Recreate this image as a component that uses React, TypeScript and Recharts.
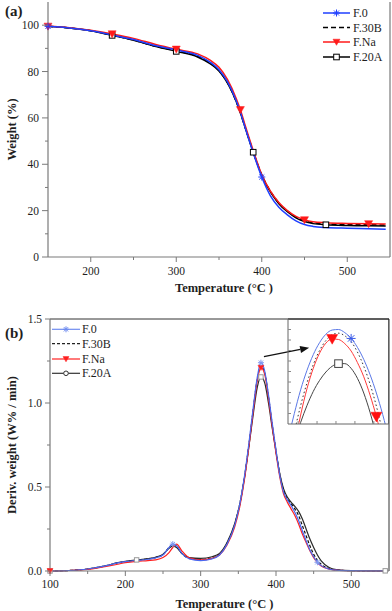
import React from 'react';
import { LineChart, Line, XAxis, YAxis, Legend, ReferenceLine, Label } from 'recharts';

const FONT = "'Liberation Serif', 'Times New Roman', serif";
const AXIS = '#7a7a7a';
const TEXT = '#1e1e1e';

// ---------- (a) TGA ----------
const tgaTemps = [150, 175, 200, 225, 250, 275, 300, 325, 340, 350, 360, 370, 375, 380, 390, 400, 410, 420, 430, 440, 450, 460, 475, 500, 525, 545];
const tgaF0 = [99.5, 98.8, 97.6, 95.8, 93.8, 91.2, 89.3, 87.0, 84.0, 80.8, 75.5, 67.5, 62.5, 56.5, 45.0, 34.5, 26.5, 21.5, 18.2, 15.6, 14.0, 13.2, 12.7, 12.4, 12.2, 12.0];
const tgaF30B = [99.5, 98.8, 97.6, 95.7, 93.6, 91.0, 88.9, 86.6, 83.6, 80.4, 75.1, 67.3, 62.3, 56.6, 45.4, 35.4, 28.4, 23.3, 19.8, 17.2, 15.6, 14.8, 14.3, 14.0, 13.9, 13.8];
const tgaFNa = [99.5, 98.9, 97.8, 96.2, 94.3, 91.8, 89.6, 87.6, 84.8, 81.8, 76.5, 68.5, 63.5, 57.5, 46.0, 35.5, 28.5, 23.5, 20.0, 17.5, 16.0, 15.2, 14.8, 14.5, 14.3, 14.2];
const tgaF20A = [99.5, 98.8, 97.6, 95.6, 93.5, 90.9, 88.7, 86.3, 83.3, 80.2, 75.0, 67.2, 62.2, 56.5, 45.2, 35.2, 28.2, 23.0, 19.5, 16.9, 15.3, 14.4, 13.9, 13.6, 13.5, 13.4];
const tgaMarkF0 = [150, 400];
const tgaMarkFNa = [150, 225, 300, 375, 450, 525];
const tgaMarkF20A = [225, 300, 390, 475];
const tgaXTicks = [200, 250, 300, 350, 400, 450, 500];
const tgaXLabels = [200, 300, 400, 500];
const tgaYTicks = [0, 10, 20, 30, 40, 50, 60, 70, 80, 90, 100];
const tgaYLabels = [0, 20, 40, 60, 80, 100];

// ---------- (b) DTG ----------
const dtgTemps = [100, 125, 150, 175, 190, 200, 215, 230, 240, 250, 258, 263, 268, 275, 285, 300, 315, 325, 335, 345, 352, 358, 364, 370, 375, 380, 385, 390, 395, 400, 405, 410, 415, 420, 425, 430, 435, 440, 445, 450, 455, 460, 470, 480, 500, 525, 545];
const dtgF0 = [0.000, 0.003, 0.012, 0.032, 0.048, 0.056, 0.063, 0.070, 0.078, 0.095, 0.140, 0.160, 0.150, 0.105, 0.072, 0.062, 0.072, 0.095, 0.160, 0.270, 0.400, 0.560, 0.760, 0.980, 1.150, 1.240, 1.190, 1.050, 0.880, 0.720, 0.570, 0.470, 0.425, 0.390, 0.350, 0.300, 0.240, 0.180, 0.125, 0.085, 0.052, 0.032, 0.012, 0.005, 0.002, 0.001, 0.001];
const dtgF30B = [0.000, 0.003, 0.012, 0.032, 0.048, 0.056, 0.064, 0.072, 0.080, 0.097, 0.140, 0.158, 0.148, 0.105, 0.075, 0.068, 0.078, 0.100, 0.165, 0.275, 0.400, 0.555, 0.750, 0.970, 1.140, 1.220, 1.180, 1.040, 0.870, 0.715, 0.575, 0.480, 0.430, 0.400, 0.370, 0.330, 0.270, 0.210, 0.150, 0.100, 0.065, 0.040, 0.015, 0.006, 0.002, 0.001, 0.001];
const dtgFNa = [0.000, 0.003, 0.010, 0.028, 0.040, 0.050, 0.058, 0.062, 0.066, 0.080, 0.110, 0.140, 0.160, 0.120, 0.078, 0.066, 0.075, 0.095, 0.155, 0.260, 0.385, 0.540, 0.740, 0.960, 1.130, 1.210, 1.170, 1.030, 0.860, 0.700, 0.560, 0.460, 0.410, 0.370, 0.330, 0.280, 0.220, 0.170, 0.120, 0.080, 0.050, 0.030, 0.012, 0.005, 0.002, 0.001, 0.001];
const dtgF20A = [0.000, 0.003, 0.012, 0.032, 0.050, 0.058, 0.066, 0.074, 0.082, 0.100, 0.135, 0.150, 0.140, 0.105, 0.080, 0.075, 0.085, 0.105, 0.170, 0.280, 0.400, 0.550, 0.740, 0.940, 1.090, 1.155, 1.120, 1.000, 0.850, 0.710, 0.580, 0.490, 0.440, 0.410, 0.385, 0.355, 0.310, 0.250, 0.190, 0.140, 0.095, 0.060, 0.022, 0.008, 0.002, 0.001, 0.001];
const dtgMarkF0 = [263, 380, 455];
const dtgMarkFNa = [100, 380];
const dtgMarkF20A = [100, 215, 380, 545];
const dtgXTicks = [100, 150, 200, 250, 300, 350, 400, 450, 500];
const dtgXLabels = [100, 200, 300, 400, 500];
const dtgYTicks = [0, 0.25, 0.5, 0.75, 1.0, 1.25, 1.5];
const dtgYLabels = [0, 0.5, 1.0, 1.5];
const arrowFrom = { t: 384, v: 1.276 };
const arrowTo = { t: 444, v: 1.329 };

// ---------- inset (peak zoom) ----------
const insetTemps = [372, 373, 374, 375, 376, 377, 378, 379, 380, 381, 382, 383, 384, 385, 386, 387, 388];
const insetF0 = [1.030, 1.080, 1.125, 1.162, 1.192, 1.215, 1.231, 1.239, 1.240, 1.234, 1.223, 1.206, 1.183, 1.154, 1.119, 1.078, 1.031];
const insetF30B = [0.985, 1.044, 1.095, 1.138, 1.173, 1.200, 1.219, 1.230, 1.233, 1.228, 1.217, 1.197, 1.170, 1.136, 1.094, 1.044, 0.988];
const insetFNa = [0.946, 1.017, 1.077, 1.127, 1.166, 1.195, 1.214, 1.222, 1.221, 1.213, 1.199, 1.177, 1.150, 1.115, 1.074, 1.026, 0.971];
const insetF20A = [0.984, 1.026, 1.063, 1.095, 1.122, 1.143, 1.159, 1.170, 1.175, 1.175, 1.166, 1.147, 1.119, 1.082, 1.036, 0.980, 0.915];
const insetMarkF0 = [382];
const insetMarkFNa = [379, 386];
const insetMarkF20A = [380];
const insetXTicks = [373.6, 376.6, 379.6, 382.6, 385.6];
const insetYTicks = [1.08, 1.1, 1.12, 1.14, 1.16, 1.18, 1.2, 1.22, 1.24];

const tgaData = tgaTemps.map((t, i) => ({ t, f0: tgaF0[i], f30b: tgaF30B[i], fna: tgaFNa[i], f20a: tgaF20A[i] }));
const dtgData = dtgTemps.map((t, i) => ({ t, f0: dtgF0[i], f30b: dtgF30B[i], fna: dtgFNa[i], f20a: dtgF20A[i] }));
const insetData = insetTemps.map((t, i) => ({ t, f0: insetF0[i], f30b: insetF30B[i], fna: insetFNa[i], f20a: insetF20A[i] }));

type Kind = 'star' | 'tri' | 'sq' | 'circ' | 'none';

function Marker({ kind, cx, cy, s, color }: { kind: Kind; cx: number; cy: number; s: number; color: string }) {
  if (kind === 'star') {
    const d = s * 0.72;
    return (
      <g stroke={color} strokeWidth={1}>
        <line x1={cx} y1={cy - s} x2={cx} y2={cy + s} />
        <line x1={cx - s} y1={cy} x2={cx + s} y2={cy} />
        <line x1={cx - d} y1={cy - d} x2={cx + d} y2={cy + d} />
        <line x1={cx - d} y1={cy + d} x2={cx + d} y2={cy - d} />
      </g>
    );
  }
  if (kind === 'tri') {
    return <polygon points={`${cx - s},${cy - s * 0.8} ${cx + s},${cy - s * 0.8} ${cx},${cy + s * 0.95}`} fill={color} stroke={color} strokeWidth={0.5} />;
  }
  if (kind === 'sq') {
    return <rect x={cx - s} y={cy - s} width={2 * s} height={2 * s} fill="#fff" stroke={color} strokeWidth={1} />;
  }
  if (kind === 'circ') {
    return <circle cx={cx} cy={cy} r={s} fill="#fff" stroke={color} strokeWidth={1} />;
  }
  return null;
}

const dotFor = (kind: Kind, marks: number[], s: number, color: string) => (p: any) => {
  const key = `d-${p.index}`;
  if (!p.payload || !marks.includes(p.payload.t) || p.cx == null || p.cy == null) return <g key={key} />;
  return (
    <g key={key}>
      <Marker kind={kind} cx={p.cx} cy={p.cy} s={s} color={color} />
    </g>
  );
};

const xTick = (labels: number[], fmt: (v: number) => string, major: number, minor: number, dy: number, fontSize: number, dir = 1, color = AXIS) => (p: any) => {
  const { x, y, payload } = p;
  const isMajor = labels.includes(payload.value);
  return (
    <g>
      <line x1={x} y1={y} x2={x} y2={y + dir * (isMajor ? major : minor)} stroke={color} strokeWidth={1} />
      {isMajor && labels.length > 0 ? (
        <text x={x} y={y + dy} textAnchor="middle" dominantBaseline="central" fontSize={fontSize} fontFamily={FONT} fill={TEXT}>
          {fmt(payload.value)}
        </text>
      ) : null}
    </g>
  );
};

const yTick = (labels: number[], fmt: (v: number) => string, major: number, minor: number, dx: number, fontSize: number, dir = 1, color = AXIS) => (p: any) => {
  const { x, y, payload } = p;
  const isMajor = labels.includes(payload.value);
  return (
    <g>
      <line x1={x} y1={y} x2={x - dir * (isMajor ? major : minor)} y2={y} stroke={color} strokeWidth={1} />
      {isMajor && labels.length > 0 ? (
        <text x={x - dx} y={y} textAnchor="end" dominantBaseline="central" fontSize={fontSize} fontFamily={FONT} fill={TEXT}>
          {fmt(payload.value)}
        </text>
      ) : null}
    </g>
  );
};

const xTitle = (text: string, dy: number, dx: number) => (p: any) => {
  const vb = p.viewBox || {};
  return (
    <text x={vb.x + vb.width / 2 + dx} y={vb.y + dy} textAnchor="middle" dominantBaseline="central" fontSize={12.5} fontWeight="bold" fontFamily={FONT} fill={TEXT}>
      {text}
    </text>
  );
};

const yTitle = (text: string, xc: number) => (p: any) => {
  const vb = p.viewBox || {};
  const cy = vb.y + vb.height / 2;
  return (
    <text x={xc} y={cy} transform={`rotate(-90, ${xc}, ${cy})`} textAnchor="middle" dominantBaseline="central" fontSize={12.5} fontWeight="bold" fontFamily={FONT} fill={TEXT}>
      {text}
    </text>
  );
};

const ArrowShape = (p: any) => {
  const { x1, y1, x2, y2 } = p;
  if ([x1, y1, x2, y2].some((v) => v == null || isNaN(v))) return <g />;
  const ang = Math.atan2(y2 - y1, x2 - x1);
  const L = 9;
  const W = 3.5;
  const bx = x2 - L * Math.cos(ang);
  const by = y2 - L * Math.sin(ang);
  const px = -Math.sin(ang) * W;
  const py = Math.cos(ang) * W;
  return (
    <g>
      <line x1={x1} y1={y1} x2={bx} y2={by} stroke="#111" strokeWidth={1.3} />
      <polygon points={`${x2},${y2} ${bx + px},${by + py} ${bx - px},${by - py}`} fill="#111" />
    </g>
  );
};

type LegendItem = { name: string; color: string; dash?: string; kind: Kind; s: number };

const LegendBox = ({ items, rowY, x1, x2, textX, width, height, lw }: { items: LegendItem[]; rowY: number[]; x1: number; x2: number; textX: number; width: number; height: number; lw: number }) => (
  <svg width={width} height={height} style={{ display: 'block', overflow: 'visible' }}>
    {items.map((it, i) => (
      <g key={it.name}>
        <line x1={x1} y1={rowY[i]} x2={x2} y2={rowY[i]} stroke={it.color} strokeWidth={lw} strokeDasharray={it.dash} />
        <Marker kind={it.kind} cx={(x1 + x2) / 2} cy={rowY[i]} s={it.s} color={it.color} />
        <text x={textX} y={rowY[i]} dominantBaseline="central" fontSize={12} fontFamily={FONT} fill={TEXT}>
          {it.name}
        </text>
      </g>
    ))}
  </svg>
);

const legendA: LegendItem[] = [
  { name: 'F.0', color: '#1f3fff', kind: 'star', s: 3.5 },
  { name: 'F.30B', color: '#000', dash: '5 3', kind: 'none', s: 0 },
  { name: 'F.Na', color: '#ff1a1a', kind: 'tri', s: 3.5 },
  { name: 'F.20A', color: '#000', kind: 'sq', s: 2.8 },
];
const legendB: LegendItem[] = [
  { name: 'F.0', color: '#6f8cf0', kind: 'star', s: 3 },
  { name: 'F.30B', color: '#222', dash: '3 2', kind: 'none', s: 0 },
  { name: 'F.Na', color: '#ff2020', kind: 'tri', s: 3 },
  { name: 'F.20A', color: '#333', kind: 'circ', s: 2.3 },
];

const BLUE_A = '#1f3fff';
const RED_A = '#ff1a1a';
const BLUE_B = '#4a68f0';
const RED_B = '#ff2020';
const GREY_B = '#2a2a2a';

export default function App() {
  return (
    <div style={{ position: 'absolute', left: 0, top: 0, width: 392, height: 611, background: '#fff', fontFamily: FONT }}>
      {/* (a) */}
      <div style={{ position: 'absolute', left: 0, top: 0 }}>
        <LineChart width={392} height={300} data={tgaData} margin={{ top: 2, right: 2, left: 0, bottom: 0 }}>
          <XAxis
            dataKey="t"
            type="number"
            domain={[150, 550]}
            ticks={tgaXTicks}
            interval={0}
            height={43}
            tickSize={0}
            tickMargin={0}
            tickLine={false}
            axisLine={{ stroke: AXIS, strokeWidth: 1.2 }}
            tick={xTick(tgaXLabels, (v) => String(v), 5, 3, 14, 11.5)}
          >
            <Label content={xTitle('Temperature (°C )', 31, 5)} />
          </XAxis>
          <YAxis
            type="number"
            domain={[0, 110]}
            ticks={tgaYTicks}
            interval={0}
            width={48}
            tickSize={0}
            tickMargin={0}
            tickLine={false}
            axisLine={{ stroke: AXIS, strokeWidth: 1.2 }}
            tick={yTick(tgaYLabels, (v) => String(v), 6, 3, 9, 11.5)}
          >
            <Label content={yTitle('Weight (%)', 12)} />
          </YAxis>
          <ReferenceLine x={550} stroke={AXIS} strokeWidth={1.2} />
          <Line dataKey="f20a" type="monotone" stroke="#000" strokeWidth={1.5} dot={dotFor('sq', tgaMarkF20A, 2.8, '#000')} activeDot={false} isAnimationActive={false} />
          <Line dataKey="f30b" type="monotone" stroke="#000" strokeWidth={1.5} strokeDasharray="5 3" dot={false} activeDot={false} isAnimationActive={false} />
          <Line dataKey="fna" type="monotone" stroke={RED_A} strokeWidth={1.5} dot={dotFor('tri', tgaMarkFNa, 4, RED_A)} activeDot={false} isAnimationActive={false} />
          <Line dataKey="f0" type="monotone" stroke={BLUE_A} strokeWidth={1.5} dot={dotFor('star', tgaMarkF0, 3.5, BLUE_A)} activeDot={false} isAnimationActive={false} />
          <Legend
            layout="vertical"
            align="center"
            verticalAlign="middle"
            wrapperStyle={{ left: 320, top: 4, width: 72, height: 62 }}
            content={() => <LegendBox items={legendA} rowY={[9, 23.5, 38, 53]} x1={3} x2={30} textX={33} width={72} height={62} lw={1.5} />}
          />
        </LineChart>
      </div>
      <div style={{ position: 'absolute', left: 5, top: 3, fontSize: 15, fontWeight: 'bold', lineHeight: '17px', color: TEXT }}>(a)</div>

      {/* (b) */}
      <div style={{ position: 'absolute', left: 0, top: 300 }}>
        <LineChart width={392} height={311} data={dtgData} margin={{ top: 19, right: 3, left: 0, bottom: 0 }}>
          <XAxis
            dataKey="t"
            type="number"
            domain={[100, 550]}
            ticks={dtgXTicks}
            interval={0}
            height={40}
            tickSize={0}
            tickMargin={0}
            tickLine={false}
            axisLine={{ stroke: AXIS, strokeWidth: 1.2 }}
            tick={xTick(dtgXLabels, (v) => String(v), 5, 3, 13, 11.5)}
          >
            <Label content={xTitle('Temperature (°C )', 33, 5)} />
          </XAxis>
          <YAxis
            type="number"
            domain={[0, 1.5]}
            ticks={dtgYTicks}
            interval={0}
            width={50}
            tickSize={0}
            tickMargin={0}
            tickLine={false}
            axisLine={{ stroke: AXIS, strokeWidth: 1.2 }}
            tick={yTick(dtgYLabels, (v) => v.toFixed(1), 5, 3, 8, 11.5)}
          >
            <Label content={yTitle('Deriv. weight (W% / min)', 12)} />
          </YAxis>
          <ReferenceLine y={1.5} stroke="#333" strokeWidth={1} />
          <ReferenceLine x={550} stroke="#333" strokeWidth={1} />
          <Line dataKey="f20a" type="monotone" stroke={GREY_B} strokeWidth={1.2} dot={dotFor('sq', dtgMarkF20A, 2.2, '#999')} activeDot={false} isAnimationActive={false} />
          <Line dataKey="f30b" type="monotone" stroke="#111" strokeWidth={1.2} strokeDasharray="3 2" dot={false} activeDot={false} isAnimationActive={false} />
          <Line dataKey="fna" type="monotone" stroke={RED_B} strokeWidth={1.2} dot={dotFor('tri', dtgMarkFNa, 3, RED_B)} activeDot={false} isAnimationActive={false} />
          <Line dataKey="f0" type="monotone" stroke={BLUE_B} strokeWidth={1.2} dot={dotFor('star', dtgMarkF0, 3, '#7f99f0')} activeDot={false} isAnimationActive={false} />
          <ReferenceLine segment={[{ x: arrowFrom.t, y: arrowFrom.v }, { x: arrowTo.t, y: arrowTo.v }]} shape={ArrowShape} />
          <Legend
            layout="vertical"
            align="center"
            verticalAlign="middle"
            wrapperStyle={{ left: 50, top: 20, width: 80, height: 62 }}
            content={() => <LegendBox items={legendB} rowY={[9.3, 23.7, 39, 53.3]} x1={2} x2={30} textX={32} width={80} height={62} lw={1.2} />}
          />
        </LineChart>
      </div>
      <div style={{ position: 'absolute', left: 5, top: 325, fontSize: 15, fontWeight: 'bold', lineHeight: '17px', color: TEXT }}>(b)</div>

      {/* inset */}
      <div style={{ position: 'absolute', left: 287, top: 318 }}>
        <LineChart width={102} height={107} data={insetData} margin={{ top: 1, right: 0, left: 0, bottom: 0 }}>
          <XAxis
            dataKey="t"
            type="number"
            domain={[372, 388]}
            ticks={insetXTicks}
            interval={0}
            height={1}
            tickSize={0}
            tickMargin={0}
            tickLine={false}
            axisLine={{ stroke: '#666', strokeWidth: 1 }}
            tick={xTick([], (v) => String(v), 3, 3, 0, 8, -1, '#888')}
          />
          <YAxis
            type="number"
            domain={[1.06, 1.26]}
            allowDataOverflow
            ticks={insetYTicks}
            interval={0}
            width={1}
            tickSize={0}
            tickMargin={0}
            tickLine={false}
            axisLine={{ stroke: '#666', strokeWidth: 1 }}
            tick={yTick([], (v) => String(v), 3, 3, 0, 8, -1, '#888')}
          />
          <ReferenceLine y={1.26} stroke="#222" strokeWidth={1} />
          <ReferenceLine x={388} stroke="#222" strokeWidth={1} />
          <Line dataKey="f20a" type="monotone" stroke="#444" strokeWidth={1} dot={dotFor('sq', insetMarkF20A, 3.8, '#444')} activeDot={false} isAnimationActive={false} />
          <Line dataKey="f30b" type="monotone" stroke="#333" strokeWidth={1} strokeDasharray="1.5 2.5" dot={false} activeDot={false} isAnimationActive={false} />
          <Line dataKey="fna" type="monotone" stroke="#ff3a3a" strokeWidth={1} dot={dotFor('tri', insetMarkFNa, 5.5, '#ff1010')} activeDot={false} isAnimationActive={false} />
          <Line dataKey="f0" type="monotone" stroke="#5a78e6" strokeWidth={1} dot={dotFor('star', insetMarkF0, 4.5, '#3a5ae8')} activeDot={false} isAnimationActive={false} />
        </LineChart>
      </div>
    </div>
  );
}
